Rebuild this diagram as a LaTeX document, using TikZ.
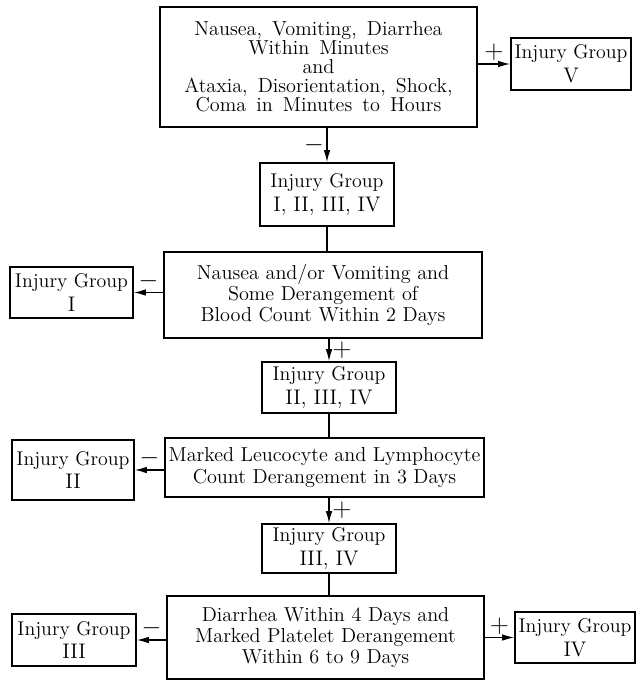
\documentclass[tikz,border=0pt]{standalone}
\usetikzlibrary{positioning,arrows.meta}
\tikzset{
  testbox/.style={draw,line width=0.9pt,align=center,inner sep=2pt,font=\fontsize{11.5}{12.2}\selectfont},
  groupbox/.style={draw,line width=0.9pt,align=center,inner sep=2pt,font=\fontsize{11.3}{13.5}\selectfont},
  flow/.style={line width=0.7pt,-{Latex[length=2.4mm,width=1.3mm]}},
  link/.style={line width=0.7pt},
  sign/.style={font=\fontsize{15}{15}\selectfont,inner sep=1.5pt}
}

\begin{document}
\begin{tikzpicture}
        \useasboundingbox (0,0) rectangle (12.72,-13.6);
        % tests down the middle
        \node[testbox,font={\fontsize{11.5}{10.8}\selectfont\spaceskip=0.5em plus 0.2em\relax},minimum width=6.34cm,minimum height=2.40cm] (tA) at (6.37,-1.34) {Nausea, Vomiting, Diarrhea\\Within Minutes\\and\\Ataxia, Disorientation, Shock,\\Coma in Minutes to Hours};
        \node[testbox,minimum width=6.36cm,minimum height=1.72cm] (tB) at (6.46,-5.90) {Nausea and/or Vomiting and\\Some Derangement of\\Blood Count Within 2 Days};
        \node[testbox,minimum width=6.38cm,minimum height=1.18cm] (tC) at (6.49,-9.35) {Marked Leucocyte and Lymphocyte\\Count Derangement in 3 Days};
        \node[testbox,minimum width=6.34cm,minimum height=1.66cm] (tD) at (6.51,-12.75) {Diarrhea Within 4 Days and\\Marked Platelet Derangement\\Within 6 to 9 Days};
        % remaining groups
        \node[groupbox,minimum width=2.68cm,minimum height=1.26cm] (g14) at (6.54,-3.89) {Injury Group\\{\large I, II, III, IV}};
        \node[groupbox,minimum width=2.68cm,minimum height=1.02cm] (g24) at (6.58,-7.75) {Injury Group\\{\large II, III, IV}};
        \node[groupbox,minimum width=2.68cm,minimum height=0.98cm] (g34) at (6.58,-10.97) {Injury Group\\{\large III, IV}};
        % final groups
        \node[groupbox,minimum width=2.36cm,minimum height=1.04cm] (gV) at (11.42,-1.28) {Injury Group\\{\large V}};
        \node[groupbox,minimum width=2.46cm,minimum height=1.02cm] (gI) at (1.43,-5.85) {Injury Group\\{\large I}};
        \node[groupbox,minimum width=2.44cm,minimum height=1.20cm] (gII) at (1.46,-9.40) {Injury Group\\{\large II}};
        \node[groupbox,minimum width=2.48cm,minimum height=1.04cm] (gIII) at (1.48,-12.80) {Injury Group\\{\large III}};
        \node[groupbox,minimum width=2.36cm,minimum height=1.02cm] (gIV) at (11.50,-12.75) {Injury Group\\{\large IV}};
        % connectors
        \draw[flow] (gV.west -| tA.east) -- node[sign,above] {$+$} (gV.west);
        \draw[flow] (tA.south -| g14.north) -- node[sign,left] {$-$} (g14.north);
        \draw[link] (g14.south) -- (g14.south |- tB.north);
        \draw[flow] (gI.east -| tB.west) -- node[sign,above] {$-$} (gI.east);
        \draw[flow] (tB.south -| g24.north) -- node[sign,right] {$+$} (g24.north);
        \draw[link] (g24.south) -- (g24.south |- tC.north);
        \draw[flow] (gII.east -| tC.west) -- node[sign,above] {$-$} (gII.east);
        \draw[flow] (tC.south -| g34.north) -- node[sign,right] {$+$} (g34.north);
        \draw[link] (g34.south) -- (g34.south |- tD.north);
        \draw[flow] (gIII.east -| tD.west) -- node[sign,above] {$-$} (gIII.east);
        \draw[flow] (gIV.west -| tD.east) -- node[sign,above] {$+$} (gIV.west);
\end{tikzpicture}
\end{document}
